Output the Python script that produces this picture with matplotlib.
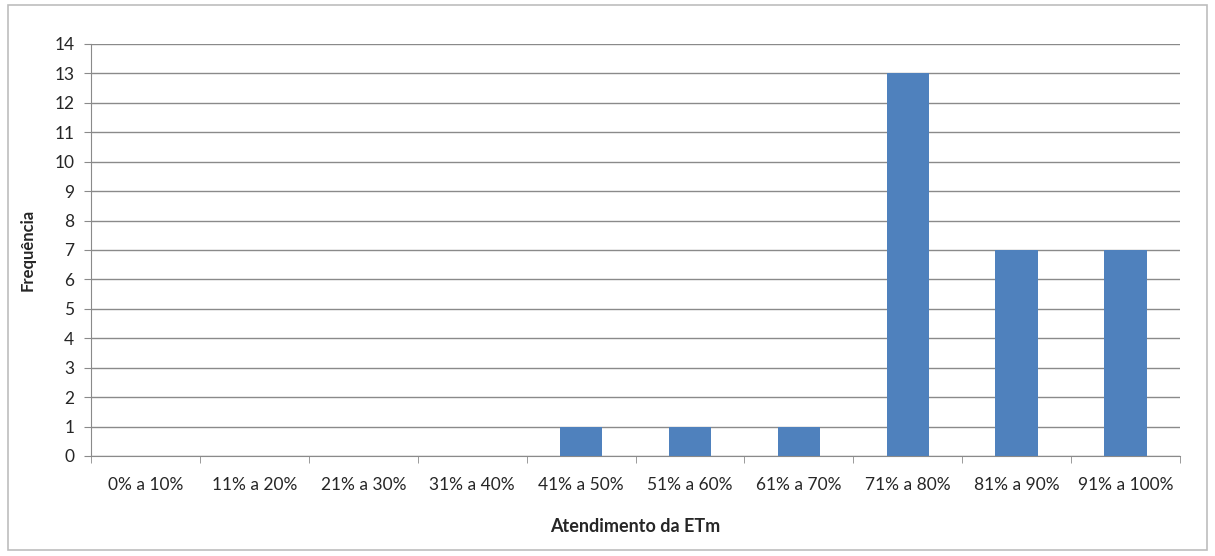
import matplotlib
matplotlib.use("Agg")
import matplotlib.pyplot as plt
from matplotlib.patches import Rectangle
import numpy as np

faixas = ["0% a 10%", "11% a 20%", "21% a 30%", "31% a 40%", "41% a 50%",
          "51% a 60%", "61% a 70%", "71% a 80%", "81% a 90%", "91% a 100%"]
frequencia = [0, 0, 0, 0, 1, 1, 1, 13, 7, 7]

plt.rcParams['font.family'] = ['Lato', 'DejaVu Sans']

fig = plt.figure(figsize=(12.15, 5.56), dpi=100)
ax = fig.add_axes([0.0749, 0.1799, 0.8963, 0.741])

# moldura externa do grafico
fig.patches.append(Rectangle((0.0066, 0.011), 0.9868, 0.98, transform=fig.transFigure,
                             fill=False, edgecolor="#bdbdbd", linewidth=1.2))

x = np.arange(len(faixas))
ax.bar(x, frequencia, width=0.39, color="#4f81bd", zorder=3)

ax.set_xlim(-0.5, len(faixas) - 0.5)
ax.set_ylim(0, 14)
ax.set_yticks(np.arange(0, 15, 1))
ax.yaxis.grid(True, color="#8a8a8a", linewidth=1.0, zorder=0)

# rotulos centrados, marcas entre as categorias
ax.set_xticks(x)
ax.set_xticklabels(faixas, fontsize=12.5, color="#262626")
ax.tick_params(axis="x", length=0, pad=15)
ax.set_xticks(np.arange(-0.5, len(faixas)), minor=True)
ax.tick_params(axis="x", which="minor", length=5, color="#8a8a8a")
ax.tick_params(axis="y", length=5, color="#8a8a8a", labelsize=12.5, labelcolor="#262626", pad=7)

for s in ["top", "right"]:
    ax.spines[s].set_visible(False)
for s in ["left", "bottom"]:
    ax.spines[s].set_color("#8a8a8a")

ax.set_xlabel("Atendimento da ETm", fontsize=13, fontweight="bold", color="#262626", va="top")
ax.xaxis.set_label_coords(0.5, -0.150)
ax.set_ylabel("Frequência", fontsize=12, fontweight="bold", color="#262626")
ax.yaxis.set_label_coords(-0.051, 0.5)

fig.savefig("out.png", dpi=100)
